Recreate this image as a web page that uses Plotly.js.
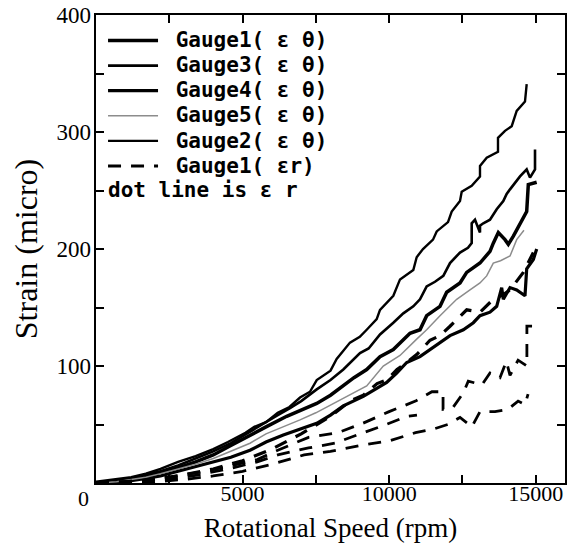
<!DOCTYPE html>
<html><head><meta charset="utf-8">
<script src="https://cdn.plot.ly/plotly-3.0.1.min.js"></script>
<style>html,body{margin:0;padding:0;background:#fff;}#chart{width:574px;height:545px;}</style>
</head><body><div id="chart"></div>
<script>
// ---- data ----
const xTickVals = [0, 2500, 5000, 7500, 10000, 12500, 15000];
const xTickBlank = ['', '', '', '', '', '', ''];
const xLabelVals = [5000, 10000, 15000];
const xLabelText = ['5000', '10000', '15000'];
const yTickVals = [0, 50, 100, 150, 200, 250, 300, 350, 400];
const yTickBlank = ['', '', '', '', '', '', '', '', ''];
const yLabelVals = [100, 200, 300, 400];
const yLabelText = ['100', '200', '300', '400'];

const g2x = [0,700,1200,1700,2200,2800,3400,4000,4500,5100,5400,5800,6200,6600,6960,7300,7530,8000,8210,8665,9000,9235,9576,9689,10143,10371,10825,10940,11155,11497,11623,12009,12135,12418,12476,12817,13100,13100,13329,13714,13714,13953,14182,14352,14635,14693];
const g2y = [1,3,5,8,12,18,23,29,35,43,48,52,60,65,73,78,88,96,106,120,125,131,140,148,160,174,182,193,200,208,215,223,232,241,249,254,262,271,278,283,295,301,305,318,326,341];

const g3x = [0,700,1200,1700,2200,2800,3400,4000,4600,5254,5800,6200,6618,7000,7530,8000,8437,9006,9300,9689,10143,10484,10825,11053,11281,11565,11849,12077,12418,12690,12817,12817,12929,13100,13100,13213,13441,13670,13895,14010,14124,14351,14465,14693,14806,14977,14977];
const g3y = [0,2,4,7,10,15,21,27,34,44,52,58,64,70,80,88,97,111,115,127,137,145,151,157,168,172,177,188,197,201,205,222,225,214,220,222,225,234,241,247,251,259,262,268,261,268,285];

const g1x = [0,700,1200,1700,2200,2800,3400,4000,4600,5254,5800,6505,7000,7530,8000,8437,8800,9235,9689,10143,10371,10712,11053,11281,11736,11964,12418,12646,13100,13213,13441,13554,13725,13953,14066,14238,14465,14693,14748,15034];
const g1y = [0,2,3,6,9,13,18,24,32,41,48,57,62,68,75,83,90,97,108,114,120,128,131,143,151,163,171,180,188,191,198,205,214,208,204,211,222,232,255,257];

const g5x = [0,700,1200,1700,2200,2800,3400,4000,4600,5254,5800,6400,6960,7500,8096,8600,9235,9800,10371,10940,11281,11736,12305,12759,13100,13328,13554,13800,14124,14352,14465,14600];
const g5y = [0,1,3,5,8,12,16,21,27,34,42,48,54,60,68,75,83,100,109,123,131,143,157,165,171,177,188,190,194,208,212,216];

const g4x = [0,700,1200,1700,2200,2800,3400,4000,4600,5254,5800,6390,7000,7530,8000,8437,9120,9689,9917,10258,10600,11053,11394,11736,12077,12532,12873,13100,13441,13670,13840,13896,14124,14352,14635,14693,14920,15034];
const g4y = [0,1,2,4,6,10,14,18,22,28,35,41,46,51,58,66,74,83,86,94,103,108,114,120,126,131,137,143,146,151,167,157,167,165,160,183,191,200];

const r1x = [0,1000,2000,3000,4000,5000,6000,7000,8000,8665,9120,9590,9920,10270,10600,10950,11394,11736,12077,12418,12646,13100,13554,13896,14124,14578,14920];
const r1y = [0,1,3,7,12,19,29,42,57,70,75,85,88,97,103,110,122,126,134,142,148,146,157,161,165,180,197];

const r2x = [0,1500,2500,3500,4500,5500,6200,7250,8250,9100,10000,10900,11460,11840,11840,12190,12530,12700,13170,13441,13783,14000,14124,14400,14700,14700,15034];
const r2y = [0,2,5,9,14,20,28,39,43,51,61,70,78,78,63,65,77,87,84,94,90,104,92,105,100,134,134];

const r3x = [0,2000,3000,4000,5000,6000,7100,8000,9000,10000,10900,11500,12000,12418,12820,13100,13612,14055,14400,14635,14740];
const r3y = [0,1,3,6,10,16,24,27,32,36,43,46,50,56,48,61,61,63,70,67,76];

const r4x = [0,2500,3500,4500,5500,6200,7250,8150,8900,9900,10600,10950];
const r4y = [0,3,7,12,18,24,30,34,41,50,57,58];

const names = ['Gauge1( ε θ)', 'Gauge3( ε θ)', 'Gauge4( ε θ)', 'Gauge5( ε θ)', 'Gauge2( ε θ)', 'Gauge1( εr)'];
const noteText = 'dot line is ε r';

// ---- styling ----
const legFont = 'DejaVu Sans Mono, monospace';
const serif = 'Liberation Serif, serif';
const span = s => '<span style="font-size:21px">\u00a0' + s + '</span>';
function tr(x, y, name, width, color, dash, show, ax2) {
  const t = {x: x, y: y, type: 'scatter', mode: 'lines', name: span(name),
    showlegend: show, line: {color: color, width: width, dash: dash || 'solid'}, hoverinfo: 'skip'};
  if (ax2) { t.xaxis = 'x2'; t.yaxis = 'y2'; }
  return t;
}
const data = [
  tr(g1x, g1y, names[0], 3.5, '#000', null, true),
  tr(g3x, g3y, names[1], 2.6, '#000', null, true),
  tr(g4x, g4y, names[2], 3.2, '#000', null, true),
  tr(g5x, g5y, names[3], 1.5, '#8c8c8c', null, true),
  tr(g2x, g2y, names[4], 2.4, '#000', null, true),
  tr(r1x, r1y, names[5], 3.2, '#000', '13px,10px', true),
  tr(r2x, r2y, 'r2', 2.8, '#000', '13px,10px', false, true),
  tr(r3x, r3y, 'r3', 2.8, '#000', '13px,10px', false, true),
  tr(r4x, r4y, 'r4', 2.8, '#000', '13px,10px', false, true)
];
// tick axes: ticks everywhere, blank labels
const tickAxis = {
  showline: true, linewidth: 2, linecolor: '#000', mirror: 'allticks',
  ticks: 'inside', ticklen: 8, tickwidth: 2, tickcolor: '#000',
  showticklabels: true, showgrid: false, zeroline: false, tickmode: 'array',
  tickfont: {family: serif, size: 10, color: '#000'}
};
// label axes: labels and titles, no ticks
const labelAxis = {
  showline: false, ticks: '', showgrid: false, zeroline: false, tickmode: 'array'
};
const layout = {
  width: 574, height: 545,
  margin: {l: 96, r: 9, t: 15, b: 62},
  paper_bgcolor: '#fff', plot_bgcolor: '#fff',
  showlegend: true,
  xaxis: Object.assign({}, tickAxis, {range: [0, 16000], tickvals: xTickVals, ticktext: xTickBlank}),
  yaxis: Object.assign({}, tickAxis, {range: [0, 400], tickvals: yTickVals, ticktext: yTickBlank}),
  xaxis2: Object.assign({}, labelAxis, {
    overlaying: 'x', anchor: 'y', side: 'bottom', range: [0, 16000],
    tickvals: xLabelVals, ticktext: xLabelText,
    tickfont: {family: serif, size: 22, color: '#000'},
    ticklabelstandoff: -5,
    title: {text: 'Rotational Speed (rpm)', font: {family: serif, size: 27, color: '#000'}, standoff: 13}
  }),
  yaxis2: Object.assign({}, labelAxis, {
    overlaying: 'y', anchor: 'x', side: 'left', range: [0, 400],
    tickvals: yLabelVals, ticktext: yLabelText,
    tickfont: {family: serif, size: 23, color: '#000'},
    ticklabelstandoff: 4,
    title: {text: 'Strain (micro)', font: {family: serif, size: 32, color: '#000'}, standoff: 9}
  }),
  legend: {x: 0.015, y: 0.983, xanchor: 'left', yanchor: 'top', bgcolor: 'rgba(0,0,0,0)',
    font: {family: legFont, size: 17, color: '#000', weight: 'bold'}, itemwidth: 50, tracegroupgap: 0},
  annotations: [
    {xref: 'paper', yref: 'paper', x: (83 - 96) / 469, y: (483.5 - 499) / 468, text: '0', showarrow: false,
     xanchor: 'center', yanchor: 'middle', font: {family: serif, size: 22, color: '#000'}},
    {xref: 'paper', yref: 'paper', x: (106 - 96) / 469, y: (483.5 - 190) / 468, text: noteText, showarrow: false,
     xanchor: 'left', yanchor: 'middle', font: {family: legFont, size: 21, color: '#000', weight: 'bold'}}
  ]
};
Plotly.newPlot('chart', data, layout, {displayModeBar: false, staticPlot: true});
</script></body></html>
